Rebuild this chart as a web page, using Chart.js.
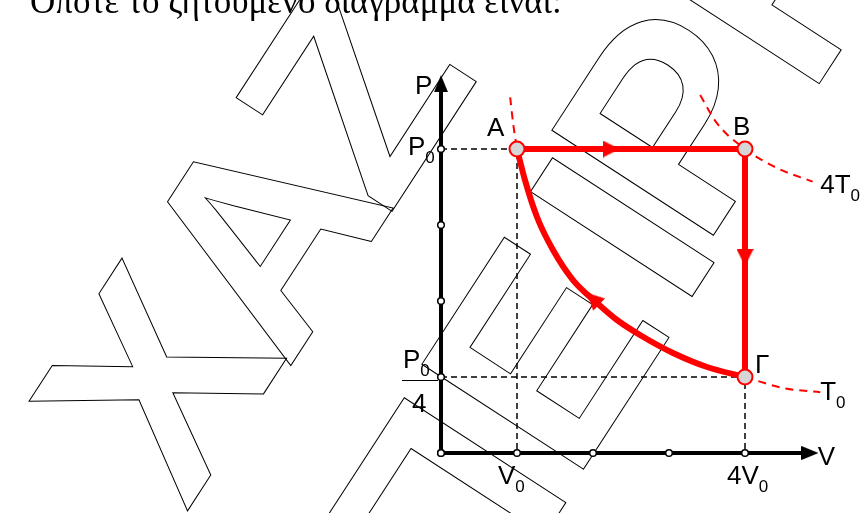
<!DOCTYPE html>
<html>
<head>
<meta charset="utf-8">
<script src="https://cdn.jsdelivr.net/npm/chart.js@4.4.1/dist/chart.umd.min.js"></script>
<style>
  html, body { margin: 0; padding: 0; background: #fff; }
  #wrap { width: 863px; height: 513px; }
</style>
</head>
<body>
<div id="wrap"><canvas id="pv" width="863" height="513"></canvas></div>
<script>
// P-V diagram: V in units of V0, P in units of P0/4
const tickV = [0, 1, 2, 3, 4];
const tickP = [0, 1, 2, 3, 4];

// states A, B, Γ
const stateNames = ['A', 'B', 'Γ'];
const stateV = [1, 4, 4];
const stateP = [4, 4, 1];

// isothermal compression Γ -> A
const curveV = [1, 1.105, 1.263, 1.474, 1.737, 2.053, 2.316, 2.618, 3.053, 3.5, 4];
const curveP = [4, 3.59, 3.105, 2.671, 2.276, 1.974, 1.75, 1.553, 1.316, 1.132, 1];

// dashed isotherms
const isoAV = [0.91, 0.95, 1];
const isoAP = [4.68, 4.33, 4];
const iso4T0V = [3.41, 3.63, 4, 4.42, 4.89];
const iso4T0P = [4.71, 4.34, 4, 3.75, 3.57];
const isoT0V = [4, 4.5, 4.99];
const isoT0P = [1, 0.855, 0.8];

// direction arrows on the cycle
const arrowV = [2.24, 4, 2.0];
const arrowP = [4, 2.57, 2.03];
const arrowTurn = [90, 180, -46];

// axis ends
const axisEndV = 4.8;
const axisEndP = 4.8;

const RED = '#ff0000';
const pts = (xs, ys) => xs.map((x, i) => ({ x: x, y: ys[i] }));

function arrowHead(w, h, color) {
    const c = document.createElement('canvas');
    c.width = w;
    c.height = h;
    const g = c.getContext('2d');
    g.fillStyle = color;
    g.beginPath();
    g.moveTo(w / 2, 0);
    g.lineTo(w, h);
    g.lineTo(0, h);
    g.closePath();
    g.fill();
    return c;
}
const redHead = arrowHead(17, 17, RED);
const blackHead = arrowHead(14, 17, '#000');

function subText(ctx, main, sub, x, y) {
    ctx.font = '26px "Liberation Sans"';
    ctx.fillText(main, x, y);
    const w = ctx.measureText(main).width;
    ctx.font = '17px "Liberation Sans"';
    ctx.fillText(sub, x + w, y + 8);
}

// outline watermark letters: glyph, centre x, centre y
const watermark = [
    ['Χ', 153, 380], ['Α', 258, 232], ['Ζ', 350, 92],
    ['Π', 437, 517], ['Ε', 540, 352], ['Ι', 619, 225], ['Ρ', 670, 118], ['Η', 780, -40]
];

const decor = {
    id: 'decor',
    beforeDatasetsDraw(chart) {
        const ctx = chart.ctx;
        ctx.save();
        // page text above the figure
        ctx.fillStyle = '#000';
        ctx.font = '35px "Liberation Serif"';
        ctx.fillText('Οπότε το ζητούμενο διάγραμμα είναι:', 30, 13);
        // outline watermark
        const size = 280;
        ctx.font = 'bold ' + size + 'px "Liberation Sans"';
        ctx.textAlign = 'center';
        ctx.strokeStyle = '#000';
        ctx.lineWidth = 1;
        watermark.forEach(([t, x, y]) => {
            ctx.save();
            ctx.translate(x, y);
            ctx.rotate(-57 * Math.PI / 180);
            ctx.strokeText(t, 0, size * 0.358);
            ctx.restore();
        });
        ctx.restore();
    },
    afterDatasetsDraw(chart) {
        const ctx = chart.ctx;
        const xs = chart.scales.x, ys = chart.scales.y;
        const X = v => xs.getPixelForValue(v);
        const Y = p => ys.getPixelForValue(p);
        ctx.save();
        ctx.fillStyle = '#000';
        ctx.textBaseline = 'alphabetic';
        ctx.font = '26px "Liberation Sans"';
        // axis names
        ctx.fillText('P', X(0) - 26, Y(axisEndP) + 6);
        ctx.fillText('V', X(axisEndV) + 12, Y(0) + 12);
        // state names
        ctx.fillText(stateNames[0], X(stateV[0]) - 30, Y(stateP[0]) - 13);
        ctx.fillText(stateNames[1], X(stateV[1]) - 12, Y(stateP[1]) - 14);
        ctx.fillText(stateNames[2], X(stateV[2]) + 10, Y(stateP[2]) - 4);
        // isotherm names
        subText(ctx, '4T', '0', X(4.99), Y(iso4T0P[4]) + 11);
        subText(ctx, 'T', '0', X(4.99), Y(isoT0P[2]) + 8);
        // tick labels on V
        subText(ctx, 'V', '0', X(tickV[1]) - 19, Y(0) + 31);
        subText(ctx, '4V', '0', X(tickV[4]) - 18, Y(0) + 31);
        // tick labels on P
        subText(ctx, 'P', '0', X(0) - 33, Y(tickP[4]) + 6);
        subText(ctx, 'P', '0', X(0) - 38, Y(tickP[1]) - 9);
        ctx.font = '26px "Liberation Sans"';
        ctx.fillText('4', X(0) - 29, Y(tickP[1]) + 35);
        ctx.beginPath();
        ctx.lineWidth = 1;
        ctx.moveTo(X(0) - 39, Y(tickP[1]) + 3.5);
        ctx.lineTo(X(0) - 3, Y(tickP[1]) + 3.5);
        ctx.stroke();
        ctx.restore();
    }
};

new Chart(document.getElementById('pv'), {
    type: 'scatter',
    data: {
        datasets: [
            {   // tick circles on V
                data: tickV.map(v => ({ x: v, y: 0 })),
                pointRadius: 3.3,
                pointBackgroundColor: '#fff',
                pointBorderColor: '#000',
                pointBorderWidth: 1.5,
                order: 0
            },
            {   // tick circles on P
                data: tickP.map(p => ({ x: 0, y: p })),
                pointRadius: 3.3,
                pointBackgroundColor: '#fff',
                pointBorderColor: '#000',
                pointBorderWidth: 1.5,
                order: 0
            },
            {   // states
                data: pts(stateV, stateP),
                pointRadius: 7.5,
                pointBackgroundColor: '#d6d6d6',
                pointBorderColor: RED,
                pointBorderWidth: 2,
                order: 0
            },
            {   // cycle arrows
                data: pts(arrowV, arrowP),
                pointStyle: redHead,
                pointRotation: arrowTurn,
                order: 1
            },
            {   // axis arrows
                data: [{ x: 0, y: 4.86 }, { x: 4.855, y: 0 }],
                pointStyle: blackHead,
                pointRotation: [0, 90],
                order: 1
            },
            {   // A -> B -> Γ
                data: pts(stateV, stateP),
                showLine: true,
                borderColor: RED,
                borderWidth: 6,
                pointRadius: 0,
                borderJoinStyle: 'miter',
                order: 2
            },
            {   // Γ -> A
                data: pts(curveV, curveP),
                showLine: true,
                borderColor: RED,
                borderWidth: 6,
                pointRadius: 0,
                cubicInterpolationMode: 'monotone',
                order: 2
            },
            {   // isotherm T0 past A
                data: pts(isoAV, isoAP),
                showLine: true,
                borderColor: RED,
                borderWidth: 2,
                borderDash: [8, 6],
                pointRadius: 0,
                cubicInterpolationMode: 'monotone',
                order: 3
            },
            {   // isotherm 4T0
                data: pts(iso4T0V, iso4T0P),
                showLine: true,
                borderColor: RED,
                borderWidth: 2,
                borderDash: [8, 6],
                pointRadius: 0,
                cubicInterpolationMode: 'monotone',
                order: 3
            },
            {   // isotherm T0 past Γ
                data: pts(isoT0V, isoT0P),
                showLine: true,
                borderColor: RED,
                borderWidth: 2,
                borderDash: [8, 6],
                pointRadius: 0,
                cubicInterpolationMode: 'monotone',
                order: 3
            },
            {   // axes
                data: [{ x: 0, y: axisEndP }, { x: 0, y: 0 }, { x: axisEndV, y: 0 }],
                showLine: true,
                borderColor: '#000',
                borderWidth: 4,
                pointRadius: 0,
                order: 4
            },
            {   // guides to P0 and V0
                data: [{ x: 0, y: stateP[0] }, { x: stateV[0], y: stateP[0] }, { x: stateV[0], y: 0 }],
                showLine: true,
                borderColor: '#000',
                borderWidth: 1.5,
                borderDash: [6, 4],
                pointRadius: 0,
                order: 5
            },
            {   // guides to P0/4 and 4V0
                data: [{ x: 0, y: stateP[2] }, { x: stateV[2], y: stateP[2] }, { x: stateV[2], y: 0 }],
                showLine: true,
                borderColor: '#000',
                borderWidth: 1.5,
                borderDash: [6, 4],
                pointRadius: 0,
                order: 5
            }
        ].map(d => Object.assign({ clip: false }, d))
    },
    options: {
        responsive: false,
        animation: false,
        layout: {
            padding: { left: 441, right: 42, top: 73, bottom: 60 }
        },
        plugins: {
            legend: { display: false },
            tooltip: { enabled: false }
        },
        scales: {
            x: { type: 'linear', min: 0, max: 5, display: false },
            y: { type: 'linear', min: 0, max: 5, display: false }
        }
    },
    plugins: [decor]
});
</script>
</body>
</html>
